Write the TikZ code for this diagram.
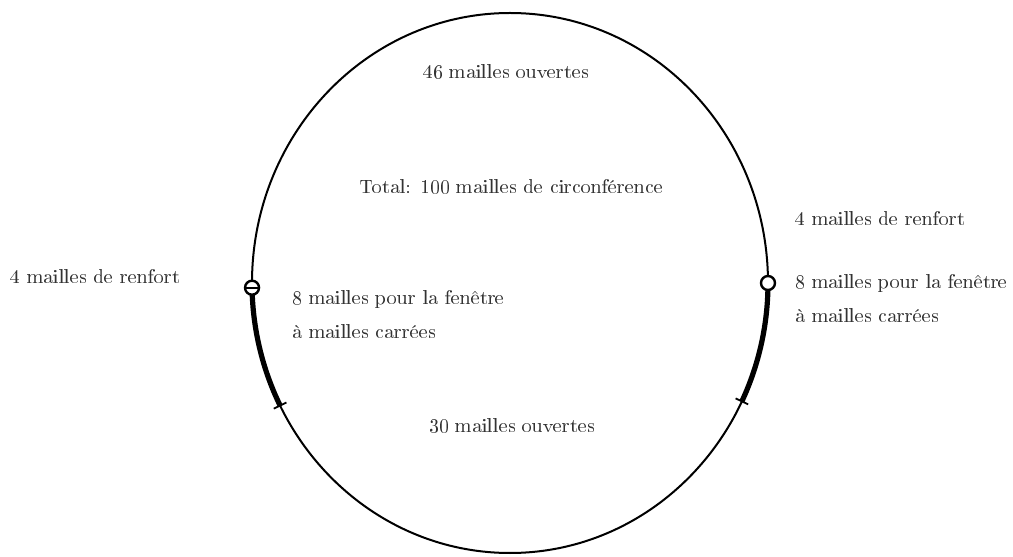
\documentclass[tikz,border=0pt]{standalone}
\usepackage[T1]{fontenc}
\usetikzlibrary{positioning}

\begin{document}
\begin{tikzpicture}[
  x=0.5pt, y=0.5pt,
  lbl/.style={font=\fontsize{10.2}{17}\selectfont, text=black!80, inner sep=0pt, align=left},
  filet/.style={line width=1pt, black},
  reinf/.style={line width=2.6pt, black},
  tickline/.style={line width=0.9pt, black},
  ring/.style={circle, draw, line width=1.2pt, fill=white, minimum size=7pt, inner sep=0pt}
]
\useasboundingbox (-510,-274) rectangle (503,283);

% Contour du filet
\draw[filet] (0,0) ellipse [x radius=258, y radius=270];

% Points de repere sur le contour
\coordinate (lw) at (181:258 and 270);
\coordinate (lt) at (207:258 and 270);
\coordinate (rw) at (0:258 and 270);
\coordinate (rt) at (334:258 and 270);

% Fenetres a mailles carrees (arcs renforces)
\draw[reinf] (lw) arc [start angle=181, end angle=207, x radius=258, y radius=270];
\draw[reinf] (rw) arc [start angle=360, end angle=334, x radius=258, y radius=270];
\draw[tickline] ([shift={(-6.3,-3.1)}]lt) -- ([shift={(6.3,3.1)}]lt);
\draw[tickline] ([shift={(-6.3,3)}]rt) -- ([shift={(6.3,-3)}]rt);

% Anneaux
\node[ring] (lring) at (lw) {};
\draw[line width=1.2pt] (lring.west) -- (lring.east);
\node[ring] (rring) at (rw) {};

% Textes
\node[lbl] (top) at (-4,211) {46 mailles ouvertes};
\node[lbl] (total) at (1.5,96) {Total: 100 mailles de circonf\'erence};
\node[lbl] (bottom) at (2,-143) {30 mailles ouvertes};
\node[lbl, anchor=west] (lrenf) at (-500,6) {4 mailles de renfort};
\node[lbl, anchor=west] (rrenf) at (285,64) {4 mailles de renfort};
\node[lbl, anchor=west] (rwin) at (285,-16) {8 mailles pour la fen\^etre\\\`a mailles carr\'ees};
\node[lbl, anchor=west] (lwin) at (-218,-31.5) {8 mailles pour la fen\^etre\\\`a mailles carr\'ees};

\end{tikzpicture}
\end{document}
